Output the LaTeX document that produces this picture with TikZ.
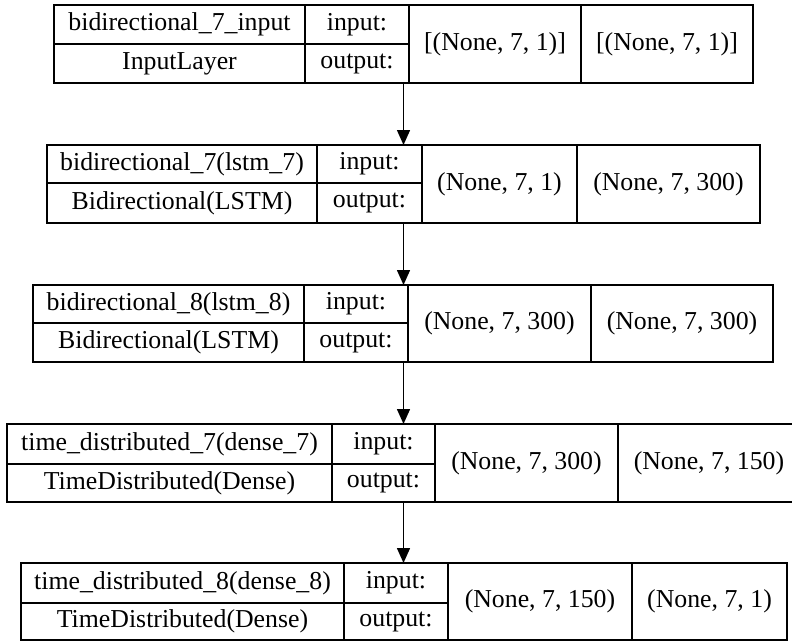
\documentclass[tikz,border=0pt]{standalone}
\usepackage{fontspec}
\setmainfont{Liberation Serif}
\usetikzlibrary{arrows.meta,fit}
\tikzset{
  cell/.style={draw, line width=1.5pt, inner sep=0pt, outer sep=0pt, anchor=north west,
    font=\fontsize{25.8}{30}\selectfont},
  layerbox/.style={inner sep=0pt, outer sep=0pt},
  flow/.style={line width=1.5pt, -{Triangle[length=15pt,width=13pt]}}
}
\newcommand\kcell[6]{\node[cell, minimum width={(#4-#2)*1pt}, minimum height={(#5-#3)*1pt}] (#1) at (#2,#3) {#6};}
\begin{document}
\begin{tikzpicture}[x=1pt,y=-1pt]
\useasboundingbox (0,0) rectangle (792,642);
\clip (0,0) rectangle (792,642);
\fill[white] (0,0) rectangle (792,642);
% layer 1
\kcell{l1-name}{54}{5}{305}{44}{bidirectional\_7\_input}
\kcell{l1-type}{54}{44}{305}{83}{InputLayer}
\kcell{l1-inl}{305}{5}{409}{44}{input:}
\kcell{l1-outl}{305}{44}{409}{83}{output:}
\kcell{l1-ins}{409}{5}{581}{83}{[(None, 7, 1)]}
\kcell{l1-outs}{581}{5}{753}{83}{[(None, 7, 1)]}
\node[layerbox, fit=(l1-name)(l1-outs)] (l1) {};
% layer 2
\kcell{l2-name}{47}{145}{317}{183}{bidirectional\_7(lstm\_7)}
\kcell{l2-type}{47}{183}{317}{223}{Bidirectional(LSTM)}
\kcell{l2-inl}{317}{145}{422}{183}{input:}
\kcell{l2-outl}{317}{183}{422}{223}{output:}
\kcell{l2-ins}{422}{145}{577}{223}{(None, 7, 1)}
\kcell{l2-outs}{577}{145}{760}{223}{(None, 7, 300)}
\node[layerbox, fit=(l2-name)(l2-outs)] (l2) {};
% layer 3
\kcell{l3-name}{33}{285}{304}{323}{bidirectional\_8(lstm\_8)}
\kcell{l3-type}{33}{323}{304}{362}{Bidirectional(LSTM)}
\kcell{l3-inl}{304}{285}{408}{323}{input:}
\kcell{l3-outl}{304}{323}{408}{362}{output:}
\kcell{l3-ins}{408}{285}{591}{362}{(None, 7, 300)}
\kcell{l3-outs}{591}{285}{773}{362}{(None, 7, 300)}
\node[layerbox, fit=(l3-name)(l3-outs)] (l3) {};
% layer 4
\kcell{l4-name}{7}{424}{332}{464}{time\_distributed\_7(dense\_7)}
\kcell{l4-type}{7}{464}{332}{502}{TimeDistributed(Dense)}
\kcell{l4-inl}{332}{424}{435}{464}{input:}
\kcell{l4-outl}{332}{464}{435}{502}{output:}
\kcell{l4-ins}{435}{424}{618}{502}{(None, 7, 300)}
\kcell{l4-outs}{618}{424}{800}{502}{(None, 7, 150)}
\node[layerbox, fit=(l4-name)(l4-outs)] (l4) {};
% layer 5
\kcell{l5-name}{21}{563}{344}{603}{time\_distributed\_8(dense\_8)}
\kcell{l5-type}{21}{603}{344}{640}{TimeDistributed(Dense)}
\kcell{l5-inl}{344}{563}{448}{603}{input:}
\kcell{l5-outl}{344}{603}{448}{640}{output:}
\kcell{l5-ins}{448}{563}{632}{640}{(None, 7, 150)}
\kcell{l5-outs}{632}{563}{787}{640}{(None, 7, 1)}
\node[layerbox, fit=(l5-name)(l5-outs)] (l5) {};
% connectors
\draw[flow] (l1.south) -- (l1.south |- l2.north);
\draw[flow] (l1.south |- l2.south) -- (l1.south |- l3.north);
\draw[flow] (l1.south |- l3.south) -- (l1.south |- l4.north);
\draw[flow] (l1.south |- l4.south) -- (l1.south |- l5.north);
\end{tikzpicture}
\end{document}
